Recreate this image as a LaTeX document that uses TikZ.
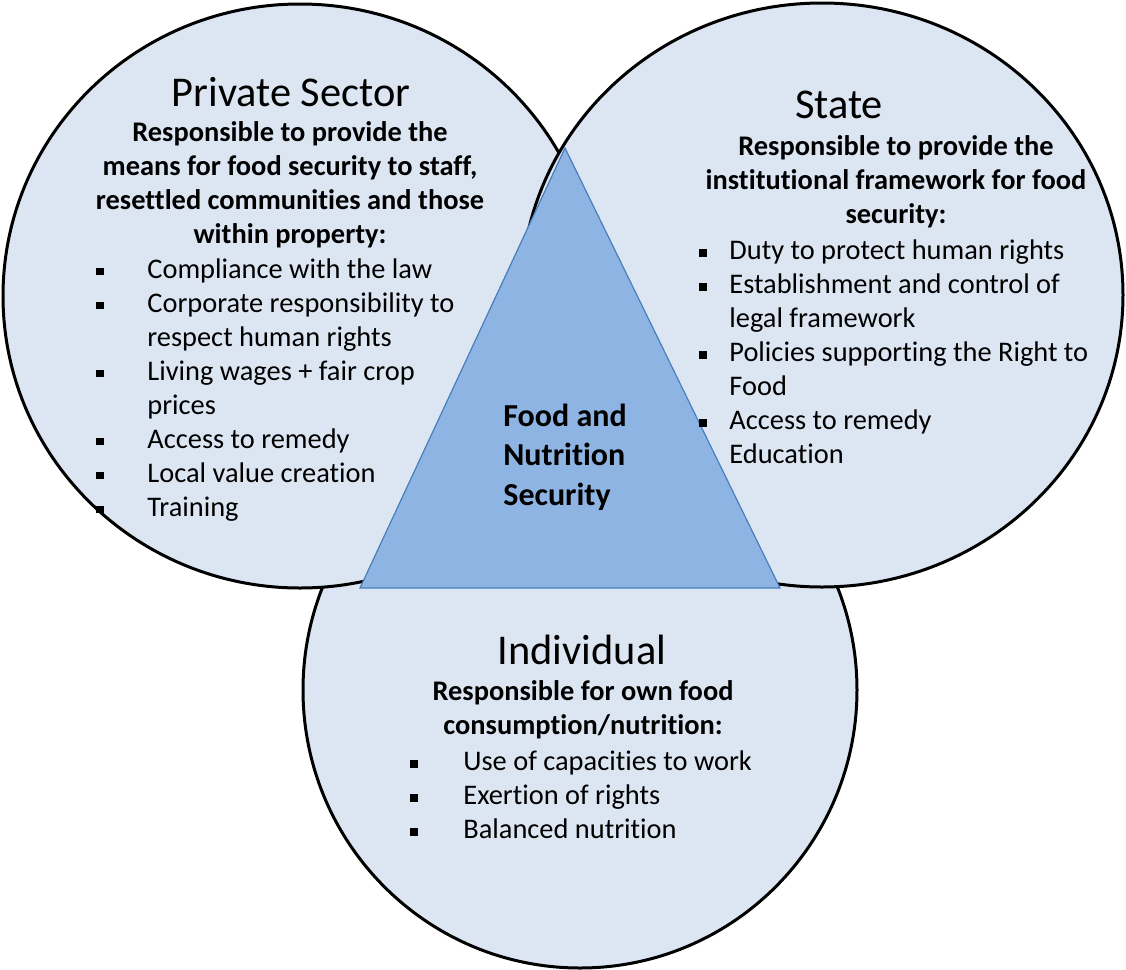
\documentclass[tikz,border=0pt]{standalone}
\usepackage{fontspec}
\setmainfont{Carlito}[Ligatures={NoCommon}]
\usetikzlibrary{shapes.geometric}
\usetikzlibrary{positioning}

\definecolor{zonefill}{HTML}{DCE6F2}
\definecolor{corefill}{HTML}{8DB4E2}
\definecolor{coreline}{HTML}{4A7EBB}

% square bullet and list lines
\newcommand{\sqbul}{\rule[1.5pt]{4pt}{3.8pt}}
\newcommand{\itm}[2]{\makebox[#1][l]{\sqbul}#2}
\newcommand{\cnt}[2]{\hspace*{#1}#2}

\tikzset{
      zone/.style={ % the three actors
      ellipse, draw=black, line width=1.5pt, fill=zonefill, inner sep=0pt},
      core/.style={ % shared goal in the middle
      draw=coreline, line width=0.6pt, fill=corefill},
      title/.style={font=\fontsize{21.2}{25}\selectfont, inner sep=0pt},
      duty/.style={font=\fontsize{14.2}{17}\selectfont\bfseries, align=center, inner sep=0pt},
      items/.style={font=\fontsize{14.2}{17}\selectfont, align=left, inner sep=0pt, anchor=west}}

\begin{document}
\begin{tikzpicture}[x=0.5pt, y=-0.5pt]
      \useasboundingbox (0,0) rectangle (1126,970);
      % circles
      \node[zone, minimum width=277pt, minimum height=278pt] (indiv) at (580,690) {};
      \node[zone, minimum width=297pt, minimum height=292pt] (private) at (300,296) {};
      \node[zone, minimum width=301pt, minimum height=292pt] (state) at (822,295) {};
      % triangle
      \coordinate (apex) at (565,148);
      \coordinate (baseL) at (360,588);
      \coordinate (baseR) at (780,588);
      \draw[core] (apex) -- (baseL) -- (baseR) -- cycle;
      \node[anchor=west, align=left, inner sep=0pt,
            font=\fontsize{16}{19.75}\selectfont\bfseries] (goal) at (503,457)
            {Food and\\Nutrition\\Security};
      % private sector
      \node[title] (privT) at (291,92) {Private Sector};
      \node[duty] (privD) at (290,185) {Responsible to provide the\\
            means for food security to staff,\\
            resettled communities and those\\
            within property:};
      \node[items] (privL) at (96,390) {\itm{25.5pt}{Compliance with the law}\\
            \itm{25.5pt}{Corporate responsibility to}\\
            \cnt{25.5pt}{respect human rights}\\
            \itm{25.5pt}{Living wages + fair crop}\\
            \cnt{25.5pt}{prices}\\
            \itm{25.5pt}{Access to remedy}\\
            \itm{25.5pt}{Local value creation}\\
            \itm{25.5pt}{Training}};
      % state
      \node[title] (stateT) at (839,105) {State};
      \node[duty] (stateD) at (896,182) {Responsible to provide the\\
            institutional framework for food\\
            security:};
      \node[items] (stateL) at (699,352) {\itm{15pt}{Duty to protect human rights}\\
            \itm{15pt}{Establishment and control of}\\
            \cnt{15pt}{legal framework}\\
            \itm{15pt}{Policies supporting the Right to}\\
            \cnt{15pt}{Food}\\
            \itm{15pt}{Access to remedy}\\
            \cnt{15pt}{Education}};
      % individual
      \node[title] (indivT) at (582,650) {Individual};
      \node[duty] (indivD) at (583,710) {Responsible for own food\\
            consumption/nutrition:};
      \node[items] (indivL) at (410,795) {\itm{26.5pt}{Use of capacities to work}\\
            \itm{26.5pt}{Exertion of rights}\\
            \itm{26.5pt}{Balanced nutrition}};
\end{tikzpicture}
\end{document}
